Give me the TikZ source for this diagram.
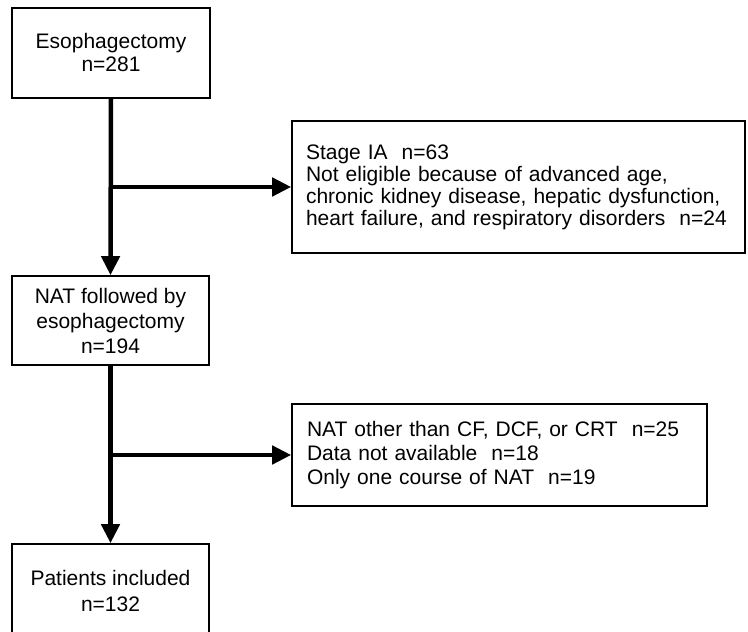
\documentclass[tikz,border=0pt]{standalone}
\usepackage{fontspec}
\setmainfont{Liberation Sans}
\usetikzlibrary{arrows.meta}
\begin{document}
\begin{tikzpicture}[x=1pt,y=1pt,
  box/.style={draw=black, line width=1.6pt, inner ysep=0pt, inner xsep=0pt, align=center},
  sidebox/.style={draw=black, line width=1.6pt, inner ysep=0pt, align=left},
  arr/.style={line width=4.5pt, -{Triangle[length=19pt,width=18pt]}},
  feed/.style={line width=4.5pt}
]
\clip (0,0) rectangle (748,632);
\useasboundingbox (0,0) rectangle (748,632);
\node[box, minimum width=198pt, minimum height=90pt, font=\fontsize{21}{23}\selectfont] (b1) at (111,579) {Esophagectomy\\n=281};
\node[sidebox, inner xsep=14pt, text width=425pt, minimum height=132pt, font=\fontsize{21}{22}\selectfont] (b2) at (518.5,445) {Stage IA\ \ n=63\\Not eligible because of advanced age,\\chronic kidney disease, hepatic dysfunction,\\heart failure, and respiratory disorders\ \ n=24};
\node[box, minimum width=197pt, minimum height=89pt, font=\fontsize{21}{25}\selectfont] (b3) at (110.5,311.5) {NAT followed by\\esophagectomy\\n=194};
\node[sidebox, inner xsep=15pt, text width=385pt, minimum height=102pt, font=\fontsize{21}{24}\selectfont] (b4) at (499.5,177) {NAT other than CF, DCF, or CRT\ \ n=25\\Data not available\ \ n=18\\Only one course of NAT\ \ n=19};
\node[box, minimum width=197pt, minimum height=93pt, font=\fontsize{21}{26}\selectfont] (b5) at (110.5,41.5) {Patients included\\n=132};
\draw[arr] (b1.south) -- (b3.north);
\draw[arr] (b1.south |- b2.west) -- (b2.west);
\draw[arr] (b3.south) -- (b5.north);
\draw[arr] (b3.south |- b4.west) -- (b4.west);
\end{tikzpicture}
\end{document}
